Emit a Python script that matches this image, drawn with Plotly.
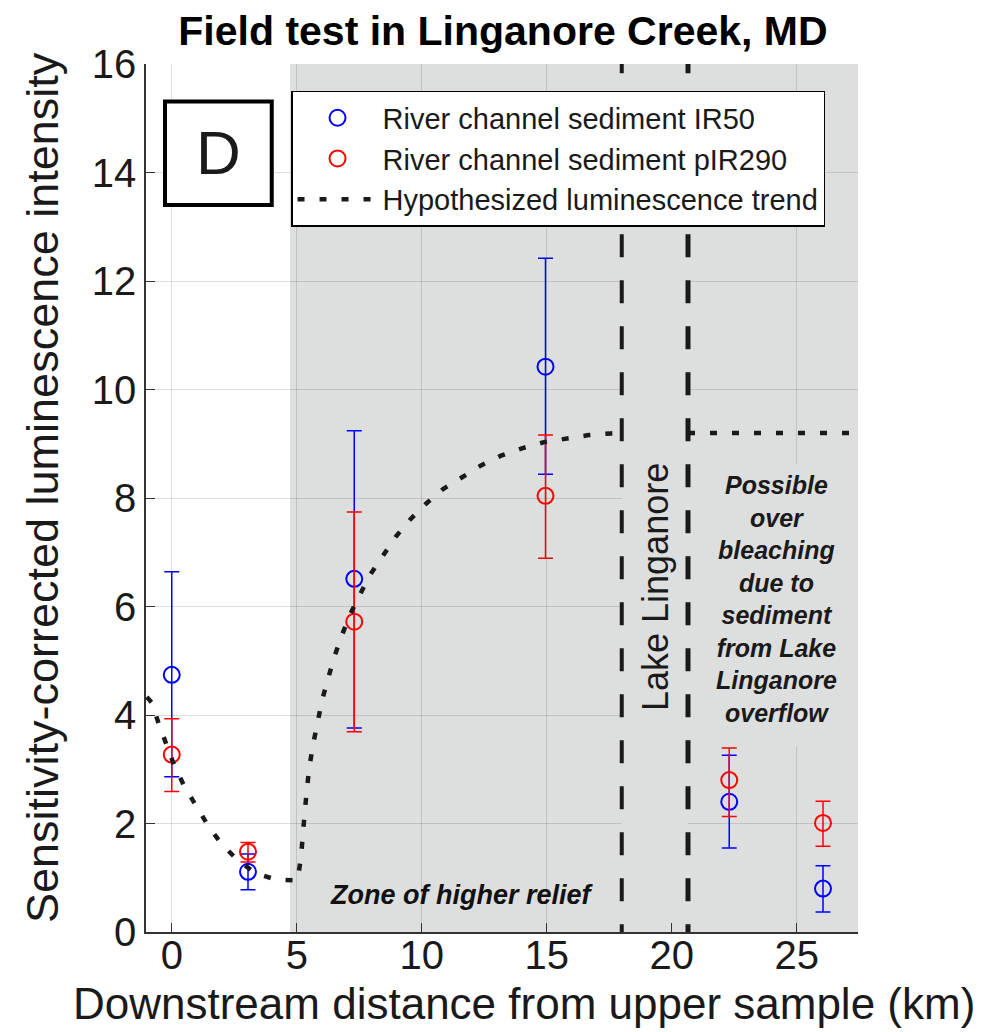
import plotly.graph_objects as go

# Sample positions along the creek (km downstream of the upper sample)
dist_km = [0.0, 3.05, 7.3, 14.95, 22.3, 26.05]

# IR50 signal: central value plus upper / lower error-bar ends
ir50 = [4.74, 1.11, 6.51, 10.42, 2.40, 0.80]
ir50_upper = [6.64, 1.44, 9.24, 12.42, 3.26, 1.22]
ir50_lower = [2.86, 0.78, 3.76, 8.44, 1.55, 0.37]

# pIR290 signal: central value plus upper / lower error-bar ends
pir290 = [3.27, 1.48, 5.72, 8.04, 2.80, 2.01]
pir290_upper = [3.93, 1.65, 7.74, 9.16, 3.39, 2.41]
pir290_lower = [2.59, 1.29, 3.69, 6.89, 2.13, 1.58]

# Hypothesized trend (two pieces, split across the lake)
trend_x = [-1.0, -0.8, -0.53, -0.23, 0.1, 0.5, 0.97, 1.44, 1.96, 2.6, 3.33,
           4.13, 5.03, 5.17, 5.24, 5.3, 5.4, 5.5, 5.64, 5.83, 6.0, 6.24, 6.5,
           6.8, 7.13, 7.53, 7.93, 8.44, 8.95, 9.53, 10.16, 10.84, 11.6, 12.37,
           13.17, 14.04, 14.9, 15.77, 16.68, 17.57, 17.9,
           None, 20.65, 27.45]
trend_y = [4.33, 4.23, 3.85, 3.47, 3.07, 2.69, 2.33, 1.97, 1.64, 1.34, 1.09,
           0.97, 0.95, 1.37, 1.78, 2.2, 2.61, 3.02, 3.43, 3.85, 4.25, 4.65, 5.07,
           5.46, 5.85, 6.22, 6.58, 6.93, 7.28, 7.6, 7.89, 8.16, 8.39, 8.6,
           8.78, 8.92, 9.03, 9.1, 9.16, 9.19, 9.2,
           None, 9.2, 9.2]

# Landmarks along the reach
relief_start_km = 4.73
lake_start_km = 18.0
lake_end_km = 20.65
x_range = [-1.03, 27.45]
y_range = [0, 16]

x_ticks = [0, 5, 10, 15, 20, 25]
y_ticks = [0, 2, 4, 6, 8, 10, 12, 14, 16]

FONT = "Liberation Sans, Arial, Helvetica, sans-serif"
ZONE_GRAY = "#dddede"


def err(vals, ends, upper=True):
    return [(e - v) if upper else (v - e) for v, e in zip(vals, ends)]


fig = go.Figure()

fig.add_trace(go.Scatter(
    x=dist_km, y=ir50, mode="markers",
    name="River channel sediment IR50",
    marker=dict(symbol="circle-open", size=16, color="#0000ff",
                line=dict(width=2, color="#0000ff")),
    error_y=dict(type="data", symmetric=False,
                 array=err(ir50, ir50_upper, True),
                 arrayminus=err(ir50, ir50_lower, False),
                 color="#0000ff", thickness=1.5, width=7.5),
))

fig.add_trace(go.Scatter(
    x=dist_km, y=pir290, mode="markers",
    name="River channel sediment pIR290",
    marker=dict(symbol="circle-open", size=16, color="#ff0000",
                line=dict(width=2, color="#ff0000")),
    error_y=dict(type="data", symmetric=False,
                 array=err(pir290, pir290_upper, True),
                 arrayminus=err(pir290, pir290_lower, False),
                 color="#ff0000", thickness=1.5, width=7.5),
))

fig.add_trace(go.Scatter(
    x=trend_x, y=trend_y, mode="lines",
    name="Hypothesized luminescence trend",
    connectgaps=False,
    line=dict(color="#1a1a1a", width=4.5, dash="7px,15px"),
))

shapes = [
    # shaded zone of higher relief
    dict(type="rect", xref="x", yref="y", x0=relief_start_km, x1=x_range[1],
         y0=y_range[0], y1=y_range[1], fillcolor=ZONE_GRAY,
         line=dict(width=0), layer="below"),
    # lake strip (no grid)
    dict(type="rect", xref="x", yref="y", x0=lake_start_km, x1=lake_end_km,
         y0=y_range[0], y1=y_range[1], fillcolor=ZONE_GRAY,
         line=dict(width=0), layer="between"),
    # background behind the overflow note
    dict(type="rect", xref="x", yref="y", x0=lake_end_km, x1=x_range[1],
         y0=3.42, y1=8.62, fillcolor=ZONE_GRAY,
         line=dict(width=0), layer="between"),
    # panel letter box
    dict(type="rect", xref="x", yref="y", x0=-0.27, x1=4.0, y0=13.4, y1=15.31,
         fillcolor="white", line=dict(color="black", width=4), layer="between"),
    # lake boundaries
    dict(type="line", xref="x", yref="y", x0=lake_start_km, x1=lake_start_km,
         y0=-0.28, y1=y_range[1],
         line=dict(color="#1a1a1a", width=4, dash="23px,23px"), layer="between"),
    dict(type="line", xref="x", yref="y", x0=lake_end_km, x1=lake_end_km,
         y0=-0.28, y1=y_range[1],
         line=dict(color="#1a1a1a", width=5, dash="23px,23px"), layer="between"),
]

annotations = [
    dict(text="D", xref="x", yref="y", x=1.86, y=14.36, showarrow=False,
         font=dict(family=FONT, size=62, color="#1a1a1a")),
    dict(text="Lake Linganore", xref="x", yref="y", x=19.35, y=6.35,
         showarrow=False, textangle=-90,
         font=dict(family=FONT, size=36, color="#1a1a1a")),
    dict(text="<b><i>Possible<br>over<br>bleaching<br>due to<br>sediment<br>"
              "from Lake<br>Linganore<br>overflow</i></b>",
         xref="x", yref="y", x=24.2, y=6.13, showarrow=False, align="center",
         font=dict(family=FONT, size=25, color="#1a1a1a")),
    dict(text="<b><i>Zone of higher relief</i></b>", xref="x", yref="y",
         x=11.6, y=0.69, showarrow=False,
         font=dict(family=FONT, size=27, color="#111111")),
    dict(text="Downstream distance from upper sample (km)", xref="paper",
         yref="paper", x=0.531, y=-0.0818, yanchor="middle", showarrow=False,
         font=dict(family=FONT, size=44, color="#1a1a1a")),
    dict(text="Sensitivity-corrected luminescence intensity", xref="paper",
         yref="paper", x=-0.146, y=0.5115, xanchor="center", yanchor="middle",
         textangle=-90, showarrow=False,
         font=dict(family=FONT, size=45, color="#1a1a1a")),
]

axis_common = dict(
    showline=True, linecolor="#333333", linewidth=1.5, mirror=False,
    ticks="inside", ticklen=9, tickwidth=1.2, tickcolor="#333333",
    showgrid=True, gridcolor="rgba(0,0,0,0.13)", gridwidth=1,
    zeroline=False, tickfont=dict(family=FONT, size=40, color="#1a1a1a"),
)

fig.update_layout(
    width=996, height=1032,
    margin=dict(l=146, r=138, t=64, b=100),
    paper_bgcolor="white", plot_bgcolor="white",
    font=dict(family=FONT, color="#1a1a1a"),
    title=dict(text="<b>Field test in Linganore Creek, MD</b>",
               x=0.505, xref="container", xanchor="center",
               y=1 - 31 / 1032, yref="container", yanchor="middle",
               font=dict(family=FONT, size=41, color="black")),
    xaxis=dict(range=x_range, tickvals=x_ticks, ticklabelstandoff=-13,
               **axis_common),
    yaxis=dict(range=y_range, tickvals=y_ticks, **axis_common),
    legend=dict(x=0.2037, y=0.969, xanchor="left", yanchor="top",
                bgcolor="white", bordercolor="black", borderwidth=1.5,
                itemwidth=80, tracegroupgap=0,
                font=dict(family=FONT, size=29, color="#1a1a1a")),
    shapes=shapes,
    annotations=annotations,
    showlegend=True,
)

fig.write_html("out.html")
